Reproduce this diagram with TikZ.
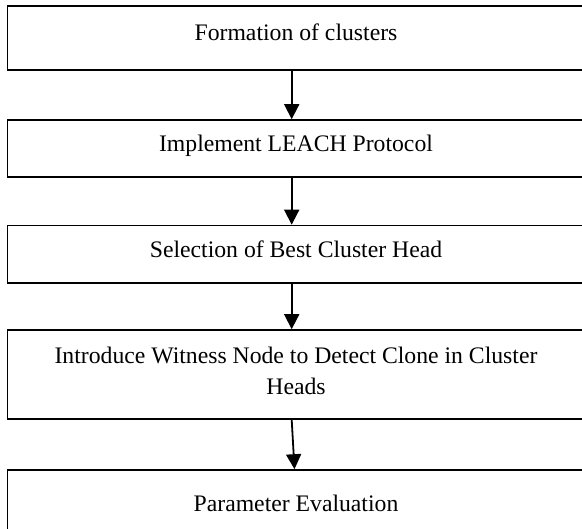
\documentclass[tikz,border=0pt]{standalone}
\usepackage{fontspec}
\setmainfont{Liberation Serif}
\usetikzlibrary{arrows.meta}
\tikzset{>={Triangle[width=15bp,length=15bp]}}
\tikzset{
  stage/.style={draw,line width=1.6bp,inner sep=0pt,minimum width=577bp,
    text height=17bp,text depth=11bp,align=center,
    font=\fontsize{23.7bp}{31bp}\selectfont},
  flow/.style={->,line width=1.8bp}
}

\begin{document}
\begin{tikzpicture}[x=1bp,y=-1bp]
  \path[use as bounding box,clip] (0,0) rectangle (582,529);
  \coordinate (axis) at (291.7,0);
  % the five stages, top to bottom
  \node[stage,minimum height=64bp] (form) at (296,38) {Formation of clusters};
  \node[stage,minimum height=57bp] (leach) at (296,148.5) {Implement LEACH Protocol};
  \node[stage,minimum height=57.5bp] (best) at (296,254.25) {Selection of Best Cluster Head};
  \node[stage,minimum height=89bp,text height=51bp] (witness) at (296,374.5)
    {Introduce Witness Node to Detect Clone in Cluster\\Heads};
  \node[stage,minimum height=76bp] (eval) at (296,508) {Parameter Evaluation};
  % arrows between stages
  \draw[flow] (form.south -| axis) -- (leach.north -| axis);
  \draw[flow] (leach.south -| axis) -- (best.north -| axis);
  \draw[flow] (best.south -| axis) -- (witness.north -| axis);
  \draw[flow] (witness.south -| axis) -- ([xshift=2.8bp]eval.north -| axis);
\end{tikzpicture}
\end{document}
